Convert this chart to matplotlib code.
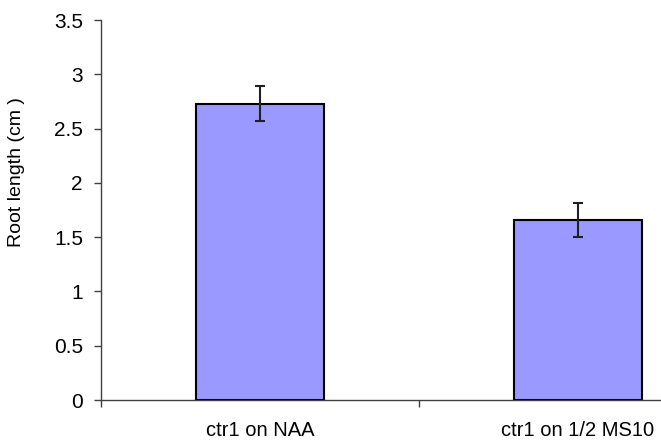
import matplotlib.pyplot as plt

categories = ["ctr1 on NAA", "ctr1 on 1/2 MS10"]
root_length = [2.73, 1.66]
std_err = [0.16, 0.155]
yticks = [0, 0.5, 1, 1.5, 2, 2.5, 3, 3.5]
ytick_labels = ["0", "0.5", "1", "1.5", "2", "2.5", "3", "3.5"]

plt.rcParams['font.family'] = ['Liberation Sans', 'DejaVu Sans']

fig = plt.figure(figsize=(6.61, 4.41), dpi=100)
# plot area goes past the right edge, like the cropped original
ax = fig.add_axes([101/661, 41/441, 636/661, 380/441])

pos = list(range(len(categories)))
ax.bar(pos, root_length, width=0.405, color='#9999FF', edgecolor='black', linewidth=1.5,
       yerr=std_err, error_kw=dict(ecolor='#202020', elinewidth=1.5, capsize=3.8, capthick=1.5),
       zorder=2)

ax.set_xlim(-0.5, 1.5)
ax.set_ylim(0, 3.5)
ax.set_yticks(yticks)
ax.set_yticklabels(ytick_labels, fontsize=15)
ax.tick_params(axis='y', direction='out', length=5, width=1, color='#404040', pad=8)

ax.set_xticks([-0.5, 0.5, 1.5])
ax.set_xticklabels([])
ax.set_xticks(pos, minor=True)
ax.set_xticklabels(categories, minor=True, fontsize=14.5)
ax.tick_params(axis='x', which='major', direction='out', length=5, width=1, color='#404040')
ax.tick_params(axis='x', which='minor', length=0, pad=15)

for side in ['top', 'right']:
    ax.spines[side].set_visible(False)
for side in ['left', 'bottom']:
    ax.spines[side].set_color('#404040')
    ax.spines[side].set_linewidth(1)

ax.set_ylabel("Root length (cm )", fontsize=14)
ax.yaxis.set_label_coords(-0.12, 0.6)

fig.savefig("out.png", dpi=100)
